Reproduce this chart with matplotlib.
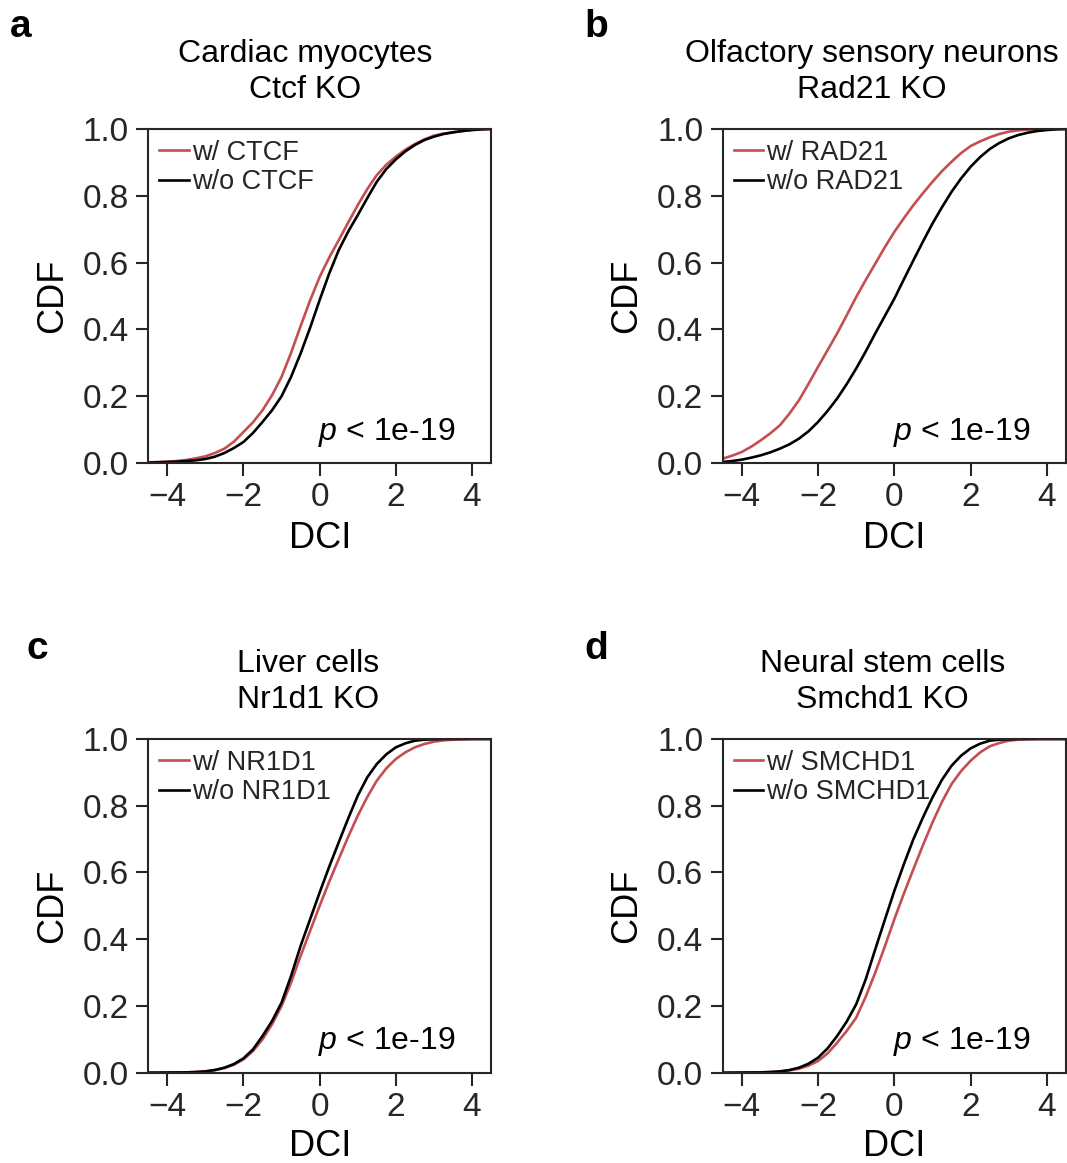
import matplotlib
matplotlib.use("Agg")
import matplotlib.pyplot as plt

plt.rcParams['font.family'] = ['Liberation Sans', 'DejaVu Sans']
plt.rcParams['mathtext.fontset'] = 'custom'
plt.rcParams['mathtext.it'] = 'Liberation Sans:italic'
plt.rcParams['mathtext.rm'] = 'Liberation Sans'

# ---- data ----
dci = [-4.5, -4.25, -4.0, -3.75, -3.5, -3.25, -3.0, -2.75, -2.5, -2.25,
       -2.0, -1.75, -1.5, -1.25, -1.0, -0.75, -0.5, -0.25, 0.0, 0.25,
       0.5, 0.75, 1.0, 1.25, 1.5, 1.75, 2.0, 2.25, 2.5, 2.75,
       3.0, 3.25, 3.5, 3.75, 4.0, 4.25, 4.5]

a_with = [0.002, 0.003, 0.004, 0.006, 0.009, 0.014, 0.020, 0.030, 0.043, 0.064,
          0.093, 0.122, 0.158, 0.203, 0.258, 0.330, 0.410, 0.487, 0.557, 0.615,
          0.667, 0.720, 0.772, 0.820, 0.862, 0.893, 0.917, 0.938, 0.955, 0.969,
          0.980, 0.986, 0.990, 0.994, 0.997, 0.999, 1.000]
a_without = [0.001, 0.002, 0.003, 0.004, 0.006, 0.008, 0.012, 0.019, 0.030, 0.045,
             0.063, 0.090, 0.123, 0.158, 0.200, 0.258, 0.328, 0.405, 0.488, 0.567,
             0.637, 0.693, 0.742, 0.793, 0.842, 0.880, 0.909, 0.933, 0.952, 0.967,
             0.977, 0.985, 0.990, 0.994, 0.997, 0.999, 1.000]

b_with = [0.013, 0.022, 0.033, 0.049, 0.068, 0.089, 0.113, 0.148, 0.188, 0.237,
          0.288, 0.338, 0.388, 0.442, 0.497, 0.548, 0.597, 0.646, 0.692, 0.733,
          0.772, 0.808, 0.842, 0.874, 0.902, 0.928, 0.949, 0.963, 0.975, 0.985,
          0.992, 0.996, 0.998, 0.999, 1.000, 1.000, 1.000]
b_without = [0.003, 0.006, 0.010, 0.016, 0.023, 0.032, 0.043, 0.056, 0.073, 0.095,
             0.123, 0.156, 0.193, 0.236, 0.283, 0.334, 0.388, 0.440, 0.492, 0.550,
             0.607, 0.663, 0.717, 0.766, 0.812, 0.852, 0.887, 0.916, 0.940, 0.958,
             0.972, 0.982, 0.989, 0.994, 0.997, 0.999, 1.000]

c_with = [0.000, 0.0002, 0.0005, 0.0007, 0.001, 0.002, 0.004, 0.008, 0.014, 0.024,
          0.040, 0.065, 0.100, 0.145, 0.200, 0.270, 0.350, 0.425, 0.500, 0.572,
          0.640, 0.707, 0.770, 0.826, 0.875, 0.912, 0.940, 0.960, 0.975, 0.985,
          0.992, 0.996, 0.998, 0.999, 1.000, 1.000, 1.000]
c_without = [0.000, 0.0002, 0.0005, 0.0007, 0.001, 0.002, 0.004, 0.008, 0.015, 0.026,
             0.043, 0.070, 0.110, 0.155, 0.210, 0.290, 0.380, 0.460, 0.540, 0.617,
             0.690, 0.762, 0.830, 0.885, 0.925, 0.954, 0.975, 0.987, 0.995, 0.998,
             0.999, 1.000, 1.000, 1.000, 1.000, 1.000, 1.000]

d_with = [0.000, 0.0001, 0.0003, 0.0006, 0.001, 0.002, 0.003, 0.007, 0.012, 0.021,
          0.035, 0.058, 0.090, 0.125, 0.165, 0.228, 0.300, 0.378, 0.460, 0.537,
          0.610, 0.682, 0.750, 0.812, 0.865, 0.904, 0.935, 0.960, 0.978, 0.988,
          0.995, 0.998, 0.999, 1.000, 1.000, 1.000, 1.000]
d_without = [0.000, 0.0002, 0.0005, 0.0007, 0.001, 0.002, 0.004, 0.008, 0.015, 0.027,
             0.045, 0.073, 0.110, 0.153, 0.205, 0.280, 0.370, 0.458, 0.545, 0.625,
             0.700, 0.765, 0.825, 0.878, 0.920, 0.950, 0.972, 0.986, 0.995, 0.998,
             0.999, 1.000, 1.000, 1.000, 1.000, 1.000, 1.000]

letters = ['a', 'b', 'c', 'd']
titles = ['Cardiac myocytes\nCtcf KO', 'Olfactory sensory neurons\nRad21 KO',
          'Liver cells\nNr1d1 KO', 'Neural stem cells\nSmchd1 KO']
factors = ['CTCF', 'RAD21', 'NR1D1', 'SMCHD1']
series_with = [a_with, b_with, c_with, d_with]
series_without = [a_without, b_without, c_without, d_without]
p_label = r'$\it{p}$ < 1e-19'
xticks = [-4, -2, 0, 2, 4]
yticks = [0.0, 0.2, 0.4, 0.6, 0.8, 1.0]

RED = '#C44E52'
DARK = '#262626'

W, H = 1067, 1163
fig = plt.figure(figsize=(W / 100, H / 100), dpi=100)

# axes boxes in pixels: left, top, right, bottom
boxes = [(148.3, 129, 491, 463), (722.7, 129, 1066, 463),
         (148.3, 739, 491, 1072.7), (722.7, 739, 1066, 1072.7)]
title_x = [0.458, 0.434, 0.466, 0.466]
letter_pos = [(10, 37), (584, 37), (27, 659), (584, 659)]
xlabel_y = [-0.175, -0.175, -0.168, -0.168]

for i in range(4):
    l, t, r, b = boxes[i]
    ax = fig.add_axes([l / W, 1 - b / H, (r - l) / W, (b - t) / H])
    ax.plot(dci, series_with[i], color=RED, lw=1.9, label='w/ ' + factors[i])
    ax.plot(dci, series_without[i], color='black', lw=1.9, label='w/o ' + factors[i])
    ax.set_xlim(-4.5, 4.5)
    ax.set_ylim(0, 1)
    ax.set_xticks(xticks)
    ax.set_xticklabels([('\u2212' if v < 0 else '') + str(abs(v)) for v in xticks])
    ax.set_yticks(yticks)
    ax.set_yticklabels(['%.1f' % v for v in yticks])
    for s in ax.spines.values():
        s.set_color(DARK)
        s.set_linewidth(1.5)
    ax.tick_params(axis='both', direction='out', length=9, width=1.5,
                   color=DARK, labelcolor=DARK, labelsize=24, pad=5)
    ax.set_xlabel('DCI', fontsize=26, color='black')
    ax.set_ylabel('CDF', fontsize=26, color='black')
    ax.xaxis.set_label_coords(0.5, xlabel_y[i])
    ax.yaxis.set_label_coords(-0.228, 0.5)
    ax.set_title(titles[i], fontsize=23, x=title_x[i], pad=22, linespacing=1.3,
                 color='black')
    leg = ax.legend(loc='upper left', frameon=False, fontsize=19.5,
                    handlelength=1.1, handletextpad=0.1, labelspacing=0.12,
                    borderaxespad=0.2, borderpad=0.2)
    for txt in leg.get_texts():
        txt.set_color(DARK)
    ax.text(0.895, 0.07, p_label, transform=ax.transAxes, ha='right',
            va='baseline', fontsize=23, color='black')
    fig.text(letter_pos[i][0] / W, 1 - letter_pos[i][1] / H, letters[i],
             fontsize=28, fontweight='bold', ha='left', va='baseline')

fig.savefig('out.png', dpi=100)
